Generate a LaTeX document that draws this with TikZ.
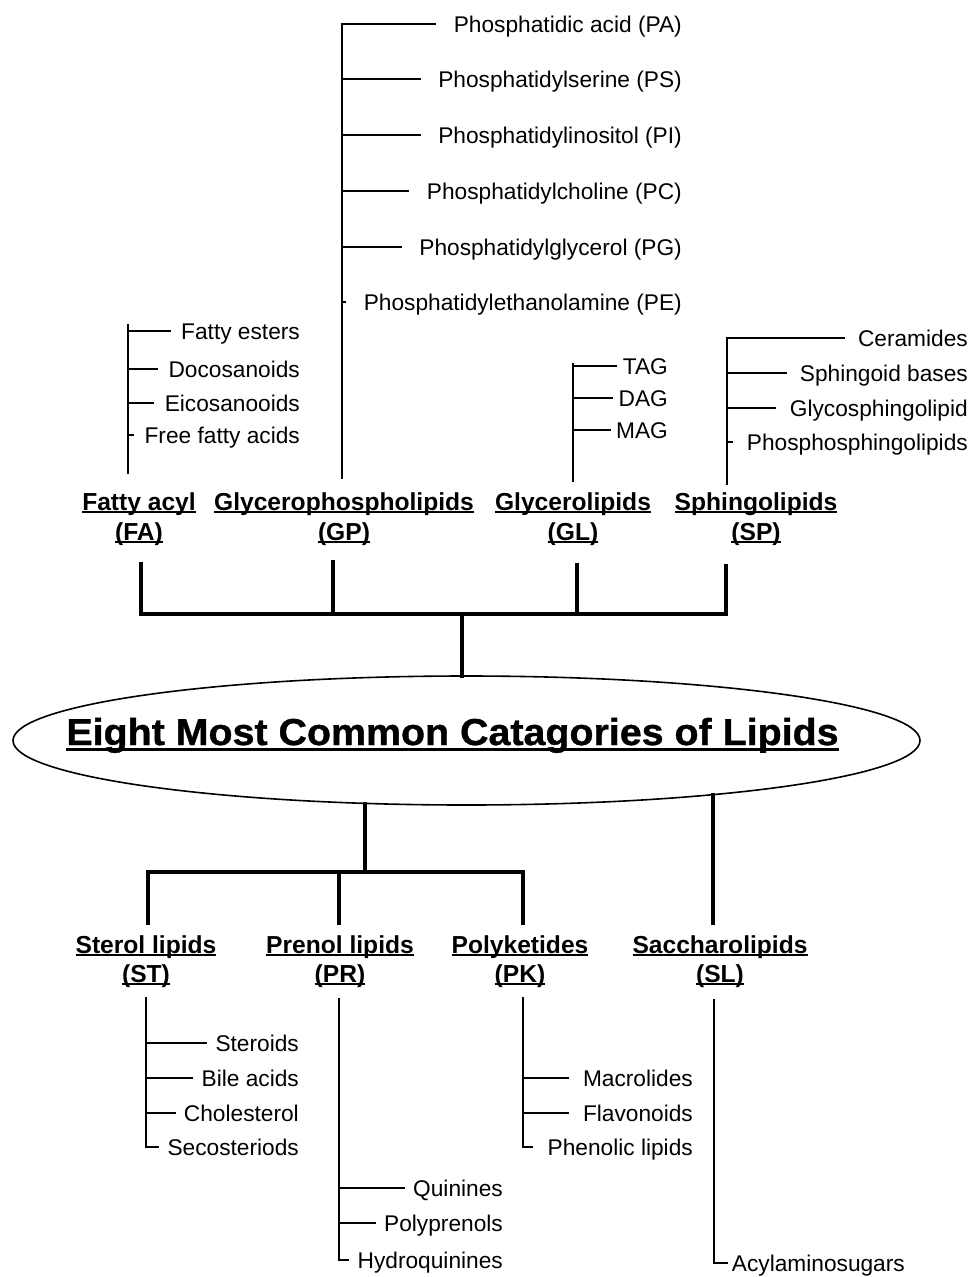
\documentclass[tikz,border=0pt]{standalone}
\usepackage{fontspec}
\setmainfont{Liberation Sans}
\newfontfamily\titlefont[BoldFeatures={FakeBold=1}]{Liberation Sans}
\usepackage{graphicx}
\usetikzlibrary{shapes.geometric}
\newsavebox\ulbox
\newcommand\ulC[1]{\sbox\ulbox{#1}\rlap{\rule[-3.3pt]{\wd\ulbox}{2.2pt}}\usebox\ulbox}
\newcommand\ulT[1]{\sbox\ulbox{#1}\rlap{\rule[-5.8pt]{\wd\ulbox}{2.6pt}}\usebox\ulbox}
\begin{document}
\begin{tikzpicture}[x=1pt,y=-1pt,
  thinline/.style={line width=1.5pt, line cap=rect},
  thickline/.style={line width=3.4pt, line cap=rect, line join=miter},
  item/.style={anchor=east, inner ysep=0pt, text height=16.3pt, text depth=0pt,
    font=\fontsize{22.7}{27}\selectfont},
  cat/.style={anchor=base, inner sep=0pt, font=\fontsize{24.6}{30}\selectfont\bfseries},
  mainell/.style={ellipse, draw, line width=1.6pt, minimum width=907pt, minimum height=129pt,
    inner sep=0pt, outer sep=0pt}]
\useasboundingbox (0,0) rectangle (973,1277);

% ---------- central ellipse ----------
\node[mainell] (main) at (466.5,740.5) {};
\node[anchor=base, inner sep=0pt] (title) at (452.5,745)
  {\scalebox{1.05}[1]{\fontsize{37.5}{44}\titlefont\bfseries\ulT{Eight Most Common Catagories of Lipids}}};

% ---------- upper categories ----------
\node[cat] (fa)  at (139,510) {\ulC{Fatty acyl}};
\node[cat] (faB) at (139,540) {\ulC{(FA)}};
\node[cat] (gp)  at (344,510) {\ulC{Glycerophospholipids}};
\node[cat] (gpB) at (344,540) {\ulC{(GP)}};
\node[cat] (gl)  at (573,510) {\ulC{Glycerolipids}};
\node[cat] (glB) at (573,540) {\ulC{(GL)}};
\node[cat] (sp)  at (756,510) {\ulC{Sphingolipids}};
\node[cat] (spB) at (756,540) {\ulC{(SP)}};

% ---------- lower categories ----------
\node[cat] (st)  at (146,953) {\ulC{Sterol lipids}};
\node[cat] (stB) at (146,982) {\ulC{(ST)}};
\node[cat] (pr)  at (340,953) {\ulC{Prenol lipids}};
\node[cat] (prB) at (340,982) {\ulC{(PR)}};
\node[cat] (pk)  at (520,953) {\ulC{Polyketides}};
\node[cat] (pkB) at (520,982) {\ulC{(PK)}};
\node[cat] (sl)  at (720,953) {\ulC{Saccharolipids}};
\node[cat] (slB) at (720,982) {\ulC{(SL)}};

% ---------- upper bracket ----------
\coordinate (bFA) at (141,564);
\coordinate (bGP) at (333,562);
\coordinate (bGL) at (577,565);
\coordinate (bSP) at (726,566);
\coordinate (uL) at (141,614);
\coordinate (uR) at (726,614);
\coordinate (uM) at (462,614);
\draw[thickline] (bFA) -- (uL) -- (uR) -- (bSP);
\draw[thickline] (bGP) -- (bGP |- uL);
\draw[thickline] (bGL) -- (bGL |- uL);
\draw[thickline] (uM) -- (uM |- main.north);

% ---------- lower bracket ----------
\coordinate (lM) at (365,872);
\coordinate (lL) at (148,872);
\coordinate (lR) at (523,872);
\coordinate (sST) at (148,923);
\coordinate (sPR) at (339,923);
\coordinate (sPK) at (523,923);
\coordinate (sSL) at (713,923);
\draw[thickline] ([yshift=1.8pt]lM |- main.south) -- (lM);
\draw[thickline] (sST) -- (lL) -- (lR) -- (sPK);
\draw[thickline] (sPR) -- (sPR |- lL);
\draw[thickline] ([yshift=10.2pt]sSL |- main.south) -- (sSL);

% ---------- GP sub-list ----------
\coordinate (gpTop) at (342,24);
\coordinate (gpBot) at (342,478);
\draw[thinline] (gpTop) -- (gpBot);
\foreach \n/\y/\t in {pa/24/Phosphatidic acid (PA), ps/79/Phosphatidylserine (PS),
  pino/135/Phosphatidylinositol (PI), pcho/191/Phosphatidylcholine (PC),
  pgly/247/Phosphatidylglycerol (PG), peth/302/Phosphatidylethanolamine (PE)}{
  \node[item, inner xsep=18pt] (\n) at (700,\y) {\t};
  \draw[thinline] (gpTop |- \n.east) -- (\n.west);
}

% ---------- FA sub-list ----------
\coordinate (faTop) at (128,325);
\coordinate (faBot) at (128,473);
\draw[thinline] (faTop) -- (faBot);
\foreach \n/\y/\t in {fe/331/Fatty esters, doc/369/Docosanoids,
  eic/403/Eicosanooids, ffa/435/Free fatty acids}{
  \node[item, inner xsep=11pt] (\n) at (311,\y) {\t};
  \draw[thinline] (faTop |- \n.east) -- (\n.west);
}

% ---------- GL sub-list ----------
\coordinate (glTop) at (573,364);
\coordinate (glBot) at (573,481);
\draw[thinline] (glTop) -- (glBot);
\foreach \n/\y/\t in {tag/366/TAG, dag/398/DAG, mag/430/MAG}{
  \node[item, inner xsep=6pt] (\n) at (674,\y) {\t};
  \draw[thinline] (glTop |- \n.east) -- (\n.west);
}

% ---------- SP sub-list ----------
\coordinate (spTop) at (727,338);
\coordinate (spBot) at (727,484);
\draw[thinline] (spTop) -- (spBot);
\foreach \n/\y/\t in {cer/338/Ceramides, sph/373/Sphingoid bases,
  gsl/408/Glycosphingolipid, psl/442/Phosphosphingolipids}{
  \node[item, inner xsep=14pt] (\n) at (982,\y) {\t};
  \draw[thinline] (spTop |- \n.east) -- (\n.west);
}

% ---------- ST sub-list ----------
\coordinate (stTop) at (146,998);
\foreach \n/\y/\t in {ster/1043/Steroids, bile/1078/Bile acids,
  chol/1113/Cholesterol, seco/1147/Secosteriods}{
  \node[item, inner xsep=9pt] (\n) at (308,\y) {\t};
  \draw[thinline] (stTop |- \n.east) -- (\n.west);
}
\draw[thinline] (stTop) -- (stTop |- seco.east);

% ---------- PR sub-list ----------
\coordinate (prTop) at (339,999);
\foreach \n/\y/\t in {quin/1188/Quinines, polyp/1223/Polyprenols, hyd/1260/Hydroquinines}{
  \node[item, inner xsep=9pt] (\n) at (512,\y) {\t};
  \draw[thinline] (prTop |- \n.east) -- (\n.west);
}
\draw[thinline] (prTop) -- (prTop |- hyd.east);

% ---------- PK sub-list ----------
\coordinate (pkTop) at (523,998);
\foreach \n/\y/\t in {mac/1078/Macrolides, flav/1113/Flavonoids, phen/1147/Phenolic lipids}{
  \node[item, inner xsep=15pt] (\n) at (708,\y) {\t};
  \draw[thinline] (pkTop |- \n.east) -- (\n.west);
}
\draw[thinline] (pkTop) -- (pkTop |- phen.east);

% ---------- SL sub-list ----------
\coordinate (slTop) at (714,1000);
\node[item, inner xsep=5pt] (acyl) at (910,1263) {Acylaminosugars};
\draw[thinline] (slTop) -- (slTop |- acyl.east) -- (acyl.west);
\end{tikzpicture}
\end{document}
